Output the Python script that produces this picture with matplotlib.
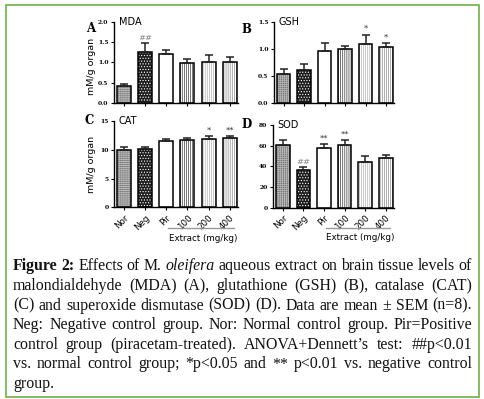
import numpy as np
import matplotlib
matplotlib.use("Agg")
import matplotlib.pyplot as plt
import matplotlib.transforms as mtransforms
from matplotlib.patches import Rectangle

# data
groups = ["Nor", "Neg", "Pir", "100", "200", "400"]

mda_mean = [0.41, 1.25, 1.22, 0.98, 1.00, 1.00]
mda_sem = [0.06, 0.23, 0.08, 0.10, 0.18, 0.14]
mda_sig = ["", "##", "", "", "", ""]

gsh_mean = [0.53, 0.60, 0.96, 1.00, 1.09, 1.04]
gsh_sem = [0.09, 0.11, 0.15, 0.05, 0.17, 0.06]
gsh_sig = ["", "", "", "", "*", "*"]

cat_mean = [10.0, 10.1, 11.45, 11.65, 11.8, 12.1]
cat_sem = [0.40, 0.30, 0.40, 0.35, 0.60, 0.30]
cat_sig = ["", "", "", "", "*", "**"]

sod_mean = [60.5, 36.2, 57.9, 60.4, 44.0, 48.0]
sod_sem = [5.0, 3.0, 3.4, 5.1, 6.0, 3.0]
sod_sig = ["", "##", "**", "**", "", ""]

# bar styles: facecolor, hatch, hatch colour
bar_styles = [
    ("#747474", "++++++++", "#b8b8b8"),
    ("#1e1e1e", "......", "#ffffff"),
    ("#ffffff", None, "#000000"),
    ("#ffffff", "||||||||", "#3a3a3a"),
    ("#ffffff", "||||||||", "#b0b0b0"),
    ("#ffffff", "||||||||", "#8a8a8a"),
]

caption_lines = [
    [("Figure", "b"), ("2:", "b"), ("Effects", "n"), ("of", "n"), ("M.", "n"), ("oleifera", "i"),
     ("aqueous", "n"), ("extract", "n"), ("on", "n"), ("brain", "n"), ("tissue", "n"), ("levels", "n"), ("of", "n")],
    "malondialdehyde (MDA) (A), glutathione (GSH) (B), catalase (CAT)",
    "(C) and superoxide dismutase (SOD) (D). Data are mean \u00b1 SEM (n=8).",
    "Neg: Negative control group. Nor: Normal control group. Pir=Positive",
    "control group (piracetam-treated). ANOVA+Dennett\u2019s test: ##p<0.01",
    "vs. normal control group; *p<0.05 and ** p<0.01 vs. negative control",
    "group.",
]

W, H = 484, 399
plt.rcParams["hatch.linewidth"] = 0.5
fig = plt.figure(figsize=(W / 100, H / 100), dpi=100)


def px_axes(left, top, right, bottom):
    return fig.add_axes([left / W, 1 - bottom / H, (right - left) / W, (bottom - top) / H])


def panel(ax, means, sems, sigs, ymax, step, fmt, letter, letter_xy, title, ylabel_y, xlabels):
    x = np.arange(len(means))
    for i, (fc, hatch, hc) in enumerate(bar_styles):
        ax.bar(x[i], means[i], width=0.66, color=fc, hatch=hatch, edgecolor=hc, linewidth=0, zorder=2)
        ax.bar(x[i], means[i], width=0.66, fill=False, edgecolor="black", linewidth=1.1, zorder=3)
    ax.errorbar(x, means, yerr=[np.zeros(len(sems)), sems], fmt="none", ecolor="#222222",
                elinewidth=1.1, capsize=3, capthick=1.1, zorder=4)
    for i, s in enumerate(sigs):
        if s:
            col = "#888888" if s.startswith("#") else "#333333"
            ax.text(x[i], means[i] + sems[i] + ymax * 0.02, s, ha="center", va="bottom",
                    fontsize=6, color=col, family="DejaVu Serif")
    ax.set_xlim(-0.47, 5.39)
    ax.set_ylim(0, ymax)
    ticks = np.arange(0, ymax + step / 2, step)
    ax.set_yticks(ticks)
    ax.set_yticklabels([fmt.format(v) for v in ticks], fontsize=4.3, fontweight="bold",
                       family="DejaVu Serif")
    ax.set_xticks(x)
    for sp in ["top", "right"]:
        ax.spines[sp].set_visible(False)
    for sp in ["left", "bottom"]:
        ax.spines[sp].set_linewidth(1.0)
    ax.tick_params(length=2.5, width=0.8, pad=1.5)
    ax.text(0.04, 1.0, title, transform=ax.transAxes, fontsize=7, va="center", ha="left")
    ax.text(letter_xy[0], letter_xy[1], letter, transform=ax.transAxes, fontsize=8.5,
            fontweight="bold", family="DejaVu Serif", va="center", ha="center")
    if ylabel_y is not None:
        ax.set_ylabel("mM/g organ", fontsize=6.8)
        ax.yaxis.set_label_coords(-0.145, ylabel_y)
    if xlabels:
        ax.set_xticklabels(groups, rotation=45, ha="right", rotation_mode="anchor", fontsize=6.3)
        tr = mtransforms.blended_transform_factory(ax.transData, ax.transAxes)
        ax.plot([2.1, 5.2], [-0.24, -0.24], color="#999999", lw=1.0, transform=tr, clip_on=False)
        ax.text(3.75, -0.36, "Extract (mg/kg)", transform=tr, fontsize=6.3, ha="center", va="center")
    else:
        ax.set_xticklabels([])


ax_a = px_axes(114, 22.3, 238, 102.7)
ax_b = px_axes(274, 21.7, 394, 102.7)
ax_c = px_axes(114, 121, 238, 207.3)
ax_d = px_axes(273, 125, 394, 207.7)

panel(ax_a, mda_mean, mda_sem, mda_sig, 2.0, 0.5, "{:.1f}", "A", (-0.185, 0.92), "MDA", 0.45, False)
panel(ax_b, gsh_mean, gsh_sem, gsh_sig, 1.5, 0.5, "{:.1f}", "B", (-0.23, 0.90), "GSH", None, False)
panel(ax_c, cat_mean, cat_sem, cat_sig, 15, 5, "{:.0f}", "C", (-0.20, 1.0), "CAT", 0.5, True)
panel(ax_d, sod_mean, sod_sem, sod_sig, 80, 20, "{:.0f}", "D", (-0.22, 1.0), "SOD", None, True)

# caption, justified word by word
renderer = fig.canvas.get_renderer()
x0, x1 = 13, 472
y_first, line_step = 266.5, 19.6
fsize = 11.4
for li, line in enumerate(caption_lines):
    if isinstance(line, str):
        words = [(w, "n") for w in line.split(" ")]
    else:
        words = line
    arts = []
    for w, st in words:
        t = fig.text(0, 1 - (y_first + li * line_step) / H, w, fontsize=fsize,
                     family="Liberation Serif", va="center", ha="left",
                     fontweight="bold" if st == "b" else "normal",
                     fontstyle="italic" if st == "i" else "normal", color="#111111")
        arts.append(t)
    widths = [a.get_window_extent(renderer).width for a in arts]
    if li < len(caption_lines) - 1 and len(arts) > 1:
        gap = (x1 - x0 - sum(widths)) / (len(arts) - 1)
    else:
        gap = fsize * 100 / 72 * 0.25
    xpos = x0
    for a, wd in zip(arts, widths):
        a.set_x(xpos / W)
        xpos += wd + gap

# green frame
fig.patches.append(Rectangle((6 / W, 2 / H), 473 / W, 392 / H, transform=fig.transFigure,
                             fill=False, edgecolor="#6fae4a", linewidth=1.2))

fig.savefig("out.png", dpi=100)
